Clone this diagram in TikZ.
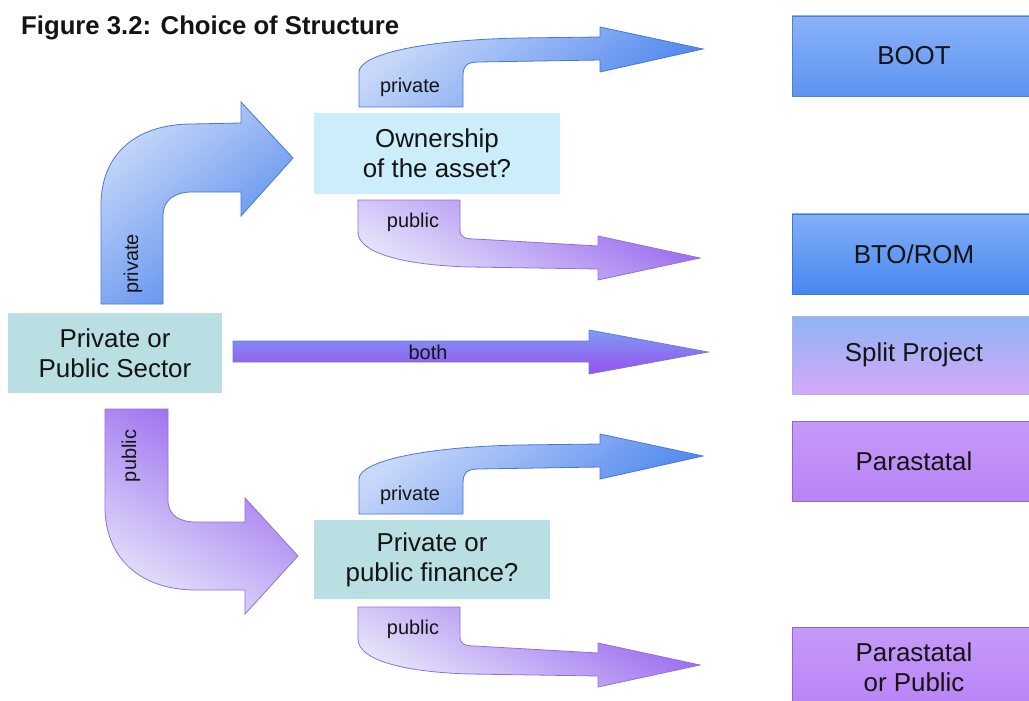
\documentclass[tikz,border=0pt]{standalone}
\usepackage{fontspec}
\setmainfont{Liberation Sans}
\definecolor{ink}{HTML}{141414}
\definecolor{tealbox}{HTML}{BADFE3}
\definecolor{cyanbox}{HTML}{CCEEFB}
\definecolor{bluelight}{HTML}{C8D8F8}
\definecolor{bluedark}{HTML}{4E86EE}
\definecolor{blueedge}{HTML}{4A78D0}
\definecolor{purplelight}{HTML}{E6E4FA}
\definecolor{purpledark}{HTML}{9462EE}
\definecolor{purpleedge}{HTML}{9470D6}
\definecolor{bothT}{HTML}{7A9CF2}
\definecolor{bothB}{HTML}{9C4EF0}
\definecolor{bothedge}{HTML}{6C7CD8}
\definecolor{bootT}{HTML}{8AB2F8}
\definecolor{bootB}{HTML}{5C94F2}
\definecolor{bootedge}{HTML}{4F80D0}
\definecolor{btoT}{HTML}{84AEF8}
\definecolor{btoB}{HTML}{4688F0}
\definecolor{btoedge}{HTML}{3F78D0}
\definecolor{splitT}{HTML}{8EB4F4}
\definecolor{splitB}{HTML}{D4AAF8}
\definecolor{splitedge}{HTML}{A8B4E4}
\definecolor{paraT}{HTML}{C69AF8}
\definecolor{paraB}{HTML}{B984F6}
\definecolor{paraedge}{HTML}{9466C8}
\begin{document}
\begin{tikzpicture}[x=1bp,y=-1bp,
  boxlbl/.style={font=\fontsize{26}{30.5}\selectfont, align=center, text=ink, inner sep=0pt},
  qbox/.style={boxlbl, fill=#1, minimum height=80bp},
  rbox/.style={boxlbl, minimum width=244bp, minimum height=80bp, line width=0.8bp},
  arrlbl/.style={font=\fontsize{20}{21}\selectfont, text=ink, inner sep=0pt},
  bluearrow/.style={draw=blueedge, line width=0.8bp, top color=bluelight, bottom color=bluedark, shading angle=40},
  purplearrow/.style={draw=purpleedge, line width=0.8bp, top color=purpledark, bottom color=purplelight, shading angle=-30},
  botharrow/.style={draw=bothedge, line width=0.8bp, top color=bothT, bottom color=bothB},
]
\path[use as bounding box, clip] (0,0) rectangle (1029,701);
\fill[white] (0,0) rectangle (1029,701);

% title
\node[anchor=base west, font=\bfseries\fontsize{25.8}{28}\selectfont, text=ink, inner sep=0pt] (title) at (21,35) {Figure 3.2: Choice of Structure};

% question boxes
\node[qbox=tealbox, minimum width=214bp] (sector) at (115,353) {Private or\\Public Sector};
\node[qbox=cyanbox, minimum width=246bp] (owner) at (437,153.5) {Ownership\\of the asset?};
\node[qbox=tealbox, minimum width=236bp, minimum height=79bp] (finance) at (432,559.5) {Private or\\public finance?};

% outcome boxes
\node[rbox, draw=bootedge, top color=bootT, bottom color=bootB] (boot) at (914,56) {BOOT};
\node[rbox, draw=btoedge, top color=btoT, bottom color=btoB] (bto) at (914,254) {BTO/ROM};
\node[rbox, draw=splitedge, top color=splitT, bottom color=splitB, minimum height=78bp] (split) at (914,355) {Split Project};
\node[rbox, draw=paraedge, top color=paraT, bottom color=paraB] (para) at (914,461) {Parastatal};
\node[rbox, draw=paraedge, top color=paraT, bottom color=paraB] (parapub) at (914,667) {Parastatal\\or Public};

% bent arrow: private (up)
\path[bluearrow] (101,304) -- (101,205) .. controls (101,155) and (135,124) .. (192,124)
  -- (241,123) -- (241,102) -- (293,158) -- (241,216) -- (241,192) -- (192,192)
  .. controls (175,192) and (163,200) .. (163,215) -- (163,304) -- cycle;
\node[arrlbl, rotate=90] (lpriv1) at (133,264) {private};

% bent arrow: public (down)
\path[purplearrow] (105,409) -- (105,507) .. controls (105,557) and (139,590) .. (196,590)
  -- (245,590) -- (245,614) -- (298,556) -- (245,498) -- (245,522) -- (196,522)
  .. controls (179,522) and (168,515) .. (168,500) -- (168,409) -- cycle;
\node[arrlbl, rotate=90] (lpub1) at (131,456) {public};

% straight arrow: both
\path[botharrow] (233,341) -- (589,341) -- (589,330) -- (708,352) -- (589,374) -- (589,362) -- (233,362) -- cycle;
\node[arrlbl] (lboth) at (428,352) {both};

% S-arrows from the two question boxes
\foreach \dy/\nm in {0/a,407/b}{
\begin{scope}[shift={(0,\dy)}]
\path[bluearrow] (359,107) -- (359,72) .. controls (359,55) and (420,40) .. (520,38)
  -- (600,37) -- (600,27) -- (703,49) -- (600,72) -- (600,60) -- (478,62)
  .. controls (467,62) and (463,66) .. (463,76) -- (463,107) -- cycle;
\node[arrlbl, anchor=base] (lpriv\nm) at (410,93) {private};
\path[purplearrow] (358,200) -- (460,200) -- (460,230) .. controls (460,237) and (465,239) .. (475,239)
  -- (598,246) -- (598,236) -- (700,258) -- (598,280) -- (598,269) -- (470,267)
  .. controls (400,265) and (358,252) .. (358,232) -- cycle;
\node[arrlbl, anchor=base] (lpub\nm) at (413,227) {public};
\end{scope}
}
\end{tikzpicture}
\end{document}
